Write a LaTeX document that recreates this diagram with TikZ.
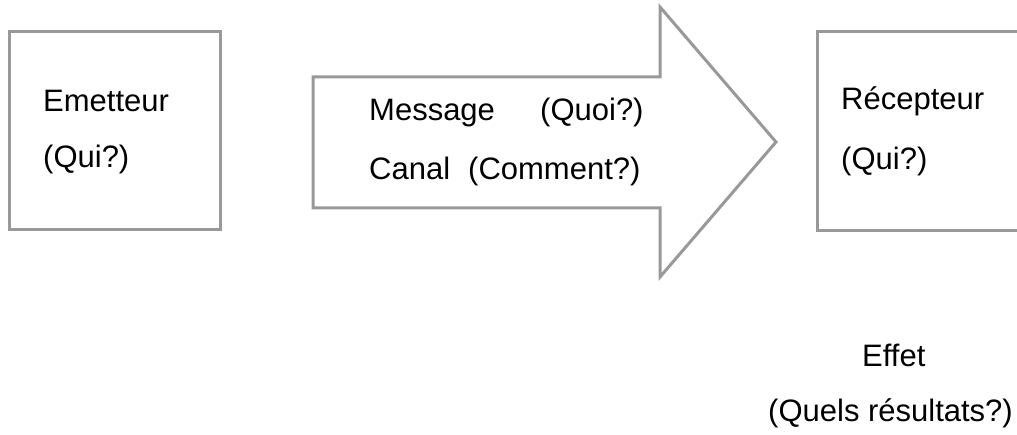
\documentclass[tikz,border=0pt]{standalone}
\usepackage{fontspec}
\setmainfont{Liberation Sans}
\definecolor{boxgray}{HTML}{999999}
\begin{document}
\begin{tikzpicture}[x=1pt,y=1pt,
  frame/.style={draw=boxgray, line width=3pt},
  lbl/.style={anchor=base west, inner sep=0pt, font=\fontsize{31}{36}\selectfont, text=black}]
\useasboundingbox (0,0) rectangle (1017,435);
\clip (0,0) rectangle (1017,435);
% emitter box
\draw[frame] (9,205) rectangle (220,403);
% receiver box (cut by the right edge)
\draw[frame] (817,204) rectangle (1035,403);
% arrow
\draw[frame, line join=miter] (313,358) -- (660,358) -- (660,428) -- (776,293) -- (660,158) -- (660,227) -- (313,227) -- cycle;
% texts
\node[lbl] (em) at (43,323) {Emetteur};
\node[lbl] (emq) at (43,267) {(Qui?)};
\node[lbl] (msg) at (369,314) {Message};
\node[lbl] (msgq) at (540,314) {(Quoi?)};
\node[lbl] (can) at (369,255) {Canal};
\node[lbl] (canq) at (468,255) {(Comment?)};
\node[lbl] (rec) at (841,325) {Récepteur};
\node[lbl] (recq) at (841,265) {(Qui?)};
\node[lbl] (eff) at (862,68) {Effet};
\node[lbl] (effq) at (768,13) {(Quels résultats?)};
\end{tikzpicture}
\end{document}
